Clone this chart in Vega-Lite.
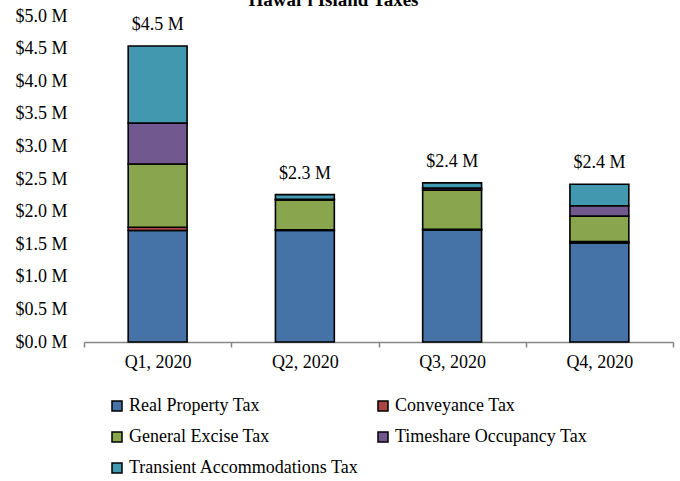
{
  "$schema": "https://vega.github.io/schema/vega-lite/v6.json",
  "width": 589,
  "height": 326,
  "autosize": {"type": "none"},
  "padding": {"left": 84, "top": 16, "right": 7, "bottom": 139},
  "background": "white",
  "title": {
    "text": "Hawaiʻi Island Taxes",
    "font": "Liberation Serif",
    "fontSize": 19,
    "fontWeight": "bold",
    "color": "black",
    "anchor": "middle",
    "frame": "group",
    "dx": -45,
    "dy": 18,
    "baseline": "alphabetic",
    "offset": 0
  },
  "data": {
    "values": [
      {"quarter": "Q1, 2020", "tax": "Real Property Tax", "ord": 1, "value": 1.71},
      {"quarter": "Q1, 2020", "tax": "Conveyance Tax", "ord": 2, "value": 0.05},
      {"quarter": "Q1, 2020", "tax": "General Excise Tax", "ord": 3, "value": 0.97},
      {"quarter": "Q1, 2020", "tax": "Timeshare Occupancy Tax", "ord": 4, "value": 0.63},
      {"quarter": "Q1, 2020", "tax": "Transient Accommodations Tax", "ord": 5, "value": 1.18},
      {"quarter": "Q2, 2020", "tax": "Real Property Tax", "ord": 1, "value": 1.71},
      {"quarter": "Q2, 2020", "tax": "Conveyance Tax", "ord": 2, "value": 0.01},
      {"quarter": "Q2, 2020", "tax": "General Excise Tax", "ord": 3, "value": 0.46},
      {"quarter": "Q2, 2020", "tax": "Timeshare Occupancy Tax", "ord": 4, "value": 0.01},
      {"quarter": "Q2, 2020", "tax": "Transient Accommodations Tax", "ord": 5, "value": 0.07},
      {"quarter": "Q3, 2020", "tax": "Real Property Tax", "ord": 1, "value": 1.72},
      {"quarter": "Q3, 2020", "tax": "Conveyance Tax", "ord": 2, "value": 0.01},
      {"quarter": "Q3, 2020", "tax": "General Excise Tax", "ord": 3, "value": 0.6},
      {"quarter": "Q3, 2020", "tax": "Timeshare Occupancy Tax", "ord": 4, "value": 0.03},
      {"quarter": "Q3, 2020", "tax": "Transient Accommodations Tax", "ord": 5, "value": 0.08},
      {"quarter": "Q4, 2020", "tax": "Real Property Tax", "ord": 1, "value": 1.52},
      {"quarter": "Q4, 2020", "tax": "Conveyance Tax", "ord": 2, "value": 0.02},
      {"quarter": "Q4, 2020", "tax": "General Excise Tax", "ord": 3, "value": 0.39},
      {"quarter": "Q4, 2020", "tax": "Timeshare Occupancy Tax", "ord": 4, "value": 0.16},
      {"quarter": "Q4, 2020", "tax": "Transient Accommodations Tax", "ord": 5, "value": 0.33}
    ]
  },
  "encoding": {
    "x": {
      "field": "quarter",
      "type": "nominal",
      "sort": null,
      "scale": {"paddingInner": 0, "paddingOuter": 0},
      "axis": {
        "title": null,
        "labelAngle": 0,
        "labelFont": "Liberation Serif",
        "labelFontSize": 18,
        "labelColor": "black",
        "labelPadding": 6,
        "domainColor": "#868686",
        "domainWidth": 1.5,
        "tickColor": "#868686",
        "tickWidth": 1.5,
        "tickSize": 5,
        "tickBand": "extent"
      }
    }
  },
  "layer": [
    {
      "mark": {"type": "bar", "width": {"band": 0.4}, "stroke": "black", "strokeWidth": 1.6},
      "encoding": {
        "y": {
          "field": "value",
          "type": "quantitative",
          "aggregate": "sum",
          "stack": "zero",
          "scale": {"domain": [0, 5], "nice": false},
          "axis": {
            "title": null,
            "values": [0, 0.5, 1, 1.5, 2, 2.5, 3, 3.5, 4, 4.5, 5],
            "labelExpr": "'$' + format(datum.value, '.1f') + ' M'",
            "labelFont": "Liberation Serif",
            "labelFontSize": 18,
            "labelColor": "black",
            "labelPadding": 17,
            "labelOverlap": false,
            "labelFlush": false,
            "labelBound": false,
            "domain": false,
            "ticks": false,
            "grid": false
          }
        },
        "color": {
          "field": "tax",
          "type": "nominal",
          "scale": {
            "domain": ["Real Property Tax", "Conveyance Tax", "General Excise Tax", "Timeshare Occupancy Tax", "Transient Accommodations Tax"],
            "range": ["#4572A7", "#AA4643", "#89A54E", "#71588F", "#4198AF"]
          },
          "legend": {
            "title": null,
            "orient": "none",
            "legendX": 24,
            "legendY": 381,
            "columns": 2,
            "columnPadding": 14,
            "rowPadding": 13,
            "values": ["Real Property Tax", "General Excise Tax", "Transient Accommodations Tax", "Conveyance Tax", "Timeshare Occupancy Tax"],
            "symbolType": "square",
            "symbolSize": 100,
            "symbolStrokeColor": "black",
            "symbolStrokeWidth": 1.5,
            "symbolOpacity": 1,
            "labelFont": "Liberation Serif",
            "labelFontSize": 18,
            "labelColor": "black",
            "labelOffset": 3,
            "labelLimit": 400
          }
        },
        "order": {"field": "ord", "type": "quantitative", "sort": "ascending"}
      }
    },
    {
      "transform": [
        {"aggregate": [{"op": "sum", "field": "value", "as": "total"}], "groupby": ["quarter"]},
        {"calculate": "'$' + format(datum.total, '.1f') + ' M'", "as": "label"}
      ],
      "mark": {"type": "text", "font": "Liberation Serif", "fontSize": 18, "color": "black", "baseline": "bottom", "dy": -12},
      "encoding": {
        "y": {
          "field": "total",
          "type": "quantitative",
          "axis": {
            "title": null,
            "values": [0, 0.5, 1, 1.5, 2, 2.5, 3, 3.5, 4, 4.5, 5],
            "labelExpr": "'$' + format(datum.value, '.1f') + ' M'",
            "labelFont": "Liberation Serif",
            "labelFontSize": 18,
            "labelColor": "black",
            "labelPadding": 17,
            "labelOverlap": false,
            "labelFlush": false,
            "labelBound": false,
            "domain": false,
            "ticks": false,
            "grid": false
          }
        },
        "text": {"field": "label", "type": "nominal"}
      }
    }
  ],
  "config": {
    "font": "Liberation Serif",
    "view": {"stroke": null},
    "legend": {"labelFont": "Liberation Serif"}
  }
}
